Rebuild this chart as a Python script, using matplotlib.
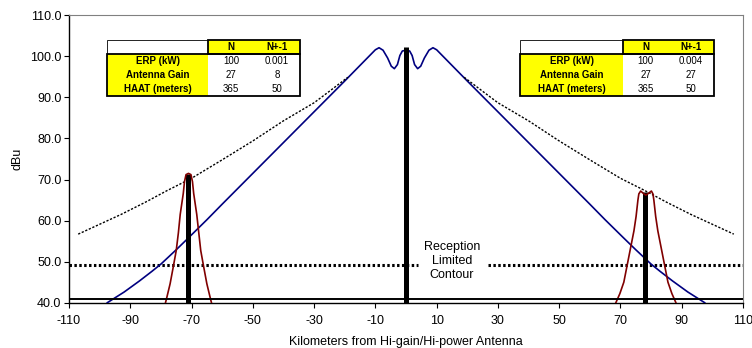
import matplotlib
matplotlib.use("Agg")
import matplotlib.pyplot as plt
from matplotlib.patches import Rectangle

plt.rcParams['font.family'] = ['Liberation Sans', 'DejaVu Sans']
plt.rcParams['axes.unicode_minus'] = False

# Hi-power station field strength (dBu) vs km
blue_km = [-97.5, -92, -87, -83, -80, -75, -71, -65, -60, -50, -40, -32, -28, -20, -15, -10, -8.8,
           -7.5, -6, -4.8, -3.8, -2.8, -2, -1.2, 0,
           1.2, 2, 2.8, 3.8, 4.8, 6, 7.5, 8.8, 10, 15, 20, 28, 32, 40, 50, 60, 65, 71, 75, 80,
           83, 87, 92, 97.5]
blue_dbu = [40.0, 42.6, 45.3, 47.6, 49.4, 52.9, 55.8, 60.2, 64.0, 71.5, 79.0, 85.0, 88.0, 94.0, 97.8, 101.6, 102.1,
            101.5, 99.6, 97.6, 97.0, 98.0, 100.2, 101.3, 101.5,
            101.3, 100.2, 98.0, 97.0, 97.6, 99.6, 101.5, 102.1, 101.6, 97.8, 94.0, 88.0, 85.0, 79.0, 71.5,
            64.0, 60.2, 55.8, 52.9, 49.4, 47.6, 45.3, 42.6, 40.0]

# N+-1 protection curve (dotted)
dot_left_km = [-107, -100, -93, -85, -78, -70, -60, -50, -40, -30, -25, -19]
dot_left_dbu = [56.7, 59.1, 61.5, 64.5, 67.3, 70.3, 74.8, 79.4, 84.3, 88.7, 91.5, 94.9]
dot_right_km = [19, 25, 30, 40, 50, 60, 70, 78, 85, 93, 100, 107]
dot_right_dbu = [94.9, 91.5, 88.7, 84.3, 79.4, 74.8, 70.3, 67.3, 64.5, 61.5, 59.1, 56.7]

# Low-power stations (dark red)
red_left_km = [-78.5, -78, -77, -76, -75, -74.3, -73.7, -72.7, -72.3, -71.8, -71,
               -70.2, -69.7, -69.3, -68.3, -67, -66, -65, -64, -63.5]
red_left_dbu = [40.0, 41.5, 44.6, 48.6, 52.7, 57.0, 61.5, 66.6, 69.5, 71.2, 71.5,
                71.2, 69.5, 66.6, 61.5, 52.7, 48.6, 44.6, 41.5, 40.0]
red_right_km = [68.5, 69.8, 71.1, 73.0, 74.4, 75.1, 75.7, 76.0, 76.6, 77.5, 78.3,
                79.1, 80.1, 80.6, 80.9, 81.5, 82.2, 83.6, 85.5, 86.8, 88.1]
red_right_dbu = [40.0, 42.2, 45.0, 52.2, 57.5, 61.0, 65.0, 66.5, 67.2, 66.6, 66.2,
                 66.6, 67.2, 66.5, 65.0, 61.0, 57.5, 52.2, 45.0, 42.2, 40.0]

# Transmitter bars
bar_km = [-71, 0, 78]
bar_top = [71.3, 102.3, 67.0]

contour_level = 49.1

table_rows = ['ERP (kW)', 'Antenna Gain', 'HAAT (meters)']
table_cols = ['N', 'N+-1']
left_vals = [['100', '0.001'], ['27', '8'], ['365', '50']]
right_vals = [['100', '0.004'], ['27', '27'], ['365', '50']]

W, H = 752, 348
fig = plt.figure(figsize=(W / 100, H / 100), dpi=100)
ax = fig.add_axes([69 / W, 1 - 302.7 / H, (743 - 69) / W, (302.7 - 15.3) / H])

ax.plot(blue_km, blue_dbu, color='#000080', lw=1.2, zorder=3)
ax.plot(dot_left_km, dot_left_dbu, color='black', lw=1.0, ls=(0, (1.6, 1.2)), zorder=3)
ax.plot(dot_right_km, dot_right_dbu, color='black', lw=1.0, ls=(0, (1.6, 1.2)), zorder=3)

ax.plot([-110, 4.0], [contour_level] * 2, color='black', lw=2.2, ls=(0, (0.8, 0.8)), zorder=2)
ax.plot([26.9, 110], [contour_level] * 2, color='black', lw=2.2, ls=(0, (0.8, 0.8)), zorder=2)
ax.text(15, 50.2, 'Reception\nLimited\nContour', ha='center', va='center',
        fontsize=9, linespacing=1.2)

ax.vlines(bar_km, 40, bar_top, color='black', lw=3.6, zorder=4)
ax.plot(red_left_km, red_left_dbu, color='#800000', lw=1.2, zorder=5)
ax.plot(red_right_km, red_right_dbu, color='#800000', lw=1.2, zorder=5)

ax.axhline(40.8, color='black', lw=1.4, zorder=6)

ax.set_xlim(-110, 110)
ax.set_ylim(40, 110)
ax.set_xticks(range(-110, 111, 20))
ax.set_yticks(range(40, 111, 10))
ax.set_yticklabels(['%.1f' % v for v in range(40, 111, 10)])
ax.tick_params(direction='out', length=3.5, width=0.8, labelsize=9)
ax.tick_params(axis='x', pad=5)
ax.tick_params(axis='y', pad=2)
for s in ['top', 'right']:
    ax.spines[s].set_color('#808080')
    ax.spines[s].set_linewidth(0.8)
for s in ['left', 'bottom']:
    ax.spines[s].set_color('black')
    ax.spines[s].set_linewidth(1.0)
ax.set_xlabel('Kilometers from Hi-gain/Hi-power Antenna', fontsize=9, labelpad=7)
ax.set_ylabel('dBu', fontsize=9, labelpad=5)


def draw_table(x0, c1, c2, x1, vals):
    tax = fig.add_axes([0, 0, 1, 1])
    tax.set_xlim(0, W)
    tax.set_ylim(H, 0)
    tax.axis('off')
    y0, yh, y1 = 40, 54, 96
    rh = (y1 - yh) / 3
    tax.add_patch(Rectangle((x0, y0), c1 - x0, yh - y0, fc='white', ec='black', lw=0.6))
    tax.add_patch(Rectangle((c1, y0), x1 - c1, yh - y0, fc='#FFFF00', ec='none'))
    tax.add_patch(Rectangle((x0, yh), c1 - x0, y1 - yh, fc='#FFFF00', ec='none'))
    tax.add_patch(Rectangle((c1, yh), x1 - c1, y1 - yh, fc='white', ec='none'))
    tax.add_patch(Rectangle((c1, y0), x1 - c1, yh - y0, fc='none', ec='black', lw=1.3))
    tax.add_patch(Rectangle((x0, yh), x1 - x0, y1 - yh, fc='none', ec='black', lw=1.3))
    for cx, lab in zip([(c1 + c2) / 2, (c2 + x1) / 2], table_cols):
        tax.text(cx, (y0 + yh) / 2, lab, ha='center', va='center', fontsize=7, fontweight='bold')
    for i, lab in enumerate(table_rows):
        cy = yh + rh * (i + 0.5)
        tax.text((x0 + c1) / 2, cy, lab, ha='center', va='center', fontsize=7, fontweight='bold')
        tax.text((c1 + c2) / 2, cy, vals[i][0], ha='center', va='center', fontsize=7)
        tax.text((c2 + x1) / 2, cy, vals[i][1], ha='center', va='center', fontsize=7)


draw_table(107, 208, 254, 300, left_vals)
draw_table(520, 623, 668, 714, right_vals)

fig.savefig('out.png', dpi=100)
